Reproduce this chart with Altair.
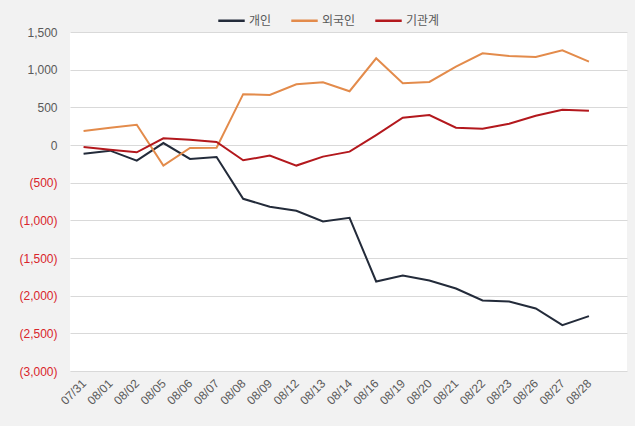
import json
import altair as alt
import pandas as pd

dates = ["07/31", "08/01", "08/02", "08/05", "08/06", "08/07", "08/08", "08/09", "08/12", "08/13",
         "08/14", "08/16", "08/19", "08/20", "08/21", "08/22", "08/23", "08/26", "08/27", "08/28"]
individual = [-115, -75, -207, 26, -185, -159, -714, -820, -873, -1014,
              -966, -1812, -1733, -1799, -1905, -2064, -2077, -2170, -2391, -2272]
foreign = [185, 229, 268, -274, -40, -36, 675, 665, 807, 833,
           714, 1151, 820, 837, 1041, 1217, 1181, 1168, 1257, 1107]
institution = [-26, -62, -97, 88, 70, 40, -203, -141, -273, -154,
               -88, 132, 362, 397, 229, 216, 282, 388, 467, 454]

series_names = ["개인", "외국인", "기관계"]
series_colors = ["#232b3a", "#e38b4b", "#b3181d"]

rows = []
for name, vals in zip(series_names, [individual, foreign, institution]):
    for i, (d, v) in enumerate(zip(dates, vals)):
        rows.append({"idx": i, "date": d, "series": name, "value": v})
df = pd.DataFrame(rows)

label_expr = json.dumps(dates) + "[datum.value]"
y_label_expr = ("datum.value < 0 ? '(' + format(-datum.value, ',') + ')' "
                ": format(datum.value, ',') + '\u00a0'")

chart = alt.Chart(df).mark_line(strokeWidth=2).encode(
    x=alt.X("idx:Q",
            scale=alt.Scale(domain=[-0.51, 20.43], nice=False, zero=False),
            axis=alt.Axis(values=list(range(len(dates))), labelExpr=label_expr,
                          labelAngle=-45, labelAlign="right", labelBaseline="middle",
                          labelPadding=10, labelOverlap=False, labelBound=False,
                          ticks=False, domain=False, grid=False,
                          title=None, labelFontSize=12, labelColor="#595959",
                          labelFont="Liberation Sans")),
    y=alt.Y("value:Q",
            scale=alt.Scale(domain=[-3000, 1500], nice=False),
            axis=alt.Axis(values=list(range(-3000, 1501, 500)), labelExpr=y_label_expr,
                          labelColor=alt.expr("datum.value < 0 ? '#d9252b' : '#595959'"),
                          ticks=False, domain=False, grid=True, gridColor="#d9d9d9",
                          title=None, labelFontSize=12, labelPadding=13,
                          labelFont="Liberation Sans")),
    color=alt.Color("series:N",
                    scale=alt.Scale(domain=series_names, range=series_colors),
                    legend=alt.Legend(title=None, orient="none", legendX=147, legendY=-26,
                                      direction="horizontal", symbolType="stroke",
                                      symbolSize=700, symbolStrokeWidth=2.5,
                                      labelFontSize=12, labelColor="#595959",
                                      labelFont="Noto Sans CJK KR",
                                      columnPadding=14, labelOffset=3)),
    order="idx:Q",
).properties(
    width=557, height=339,
    padding={"left": 70, "top": 32, "right": 8, "bottom": 55},
    autosize="none",
    background="#f2f2f2",
).configure_view(fill="white", stroke=None)

chart.save("out.html", embed_options={"renderer": "svg", "actions": False})
